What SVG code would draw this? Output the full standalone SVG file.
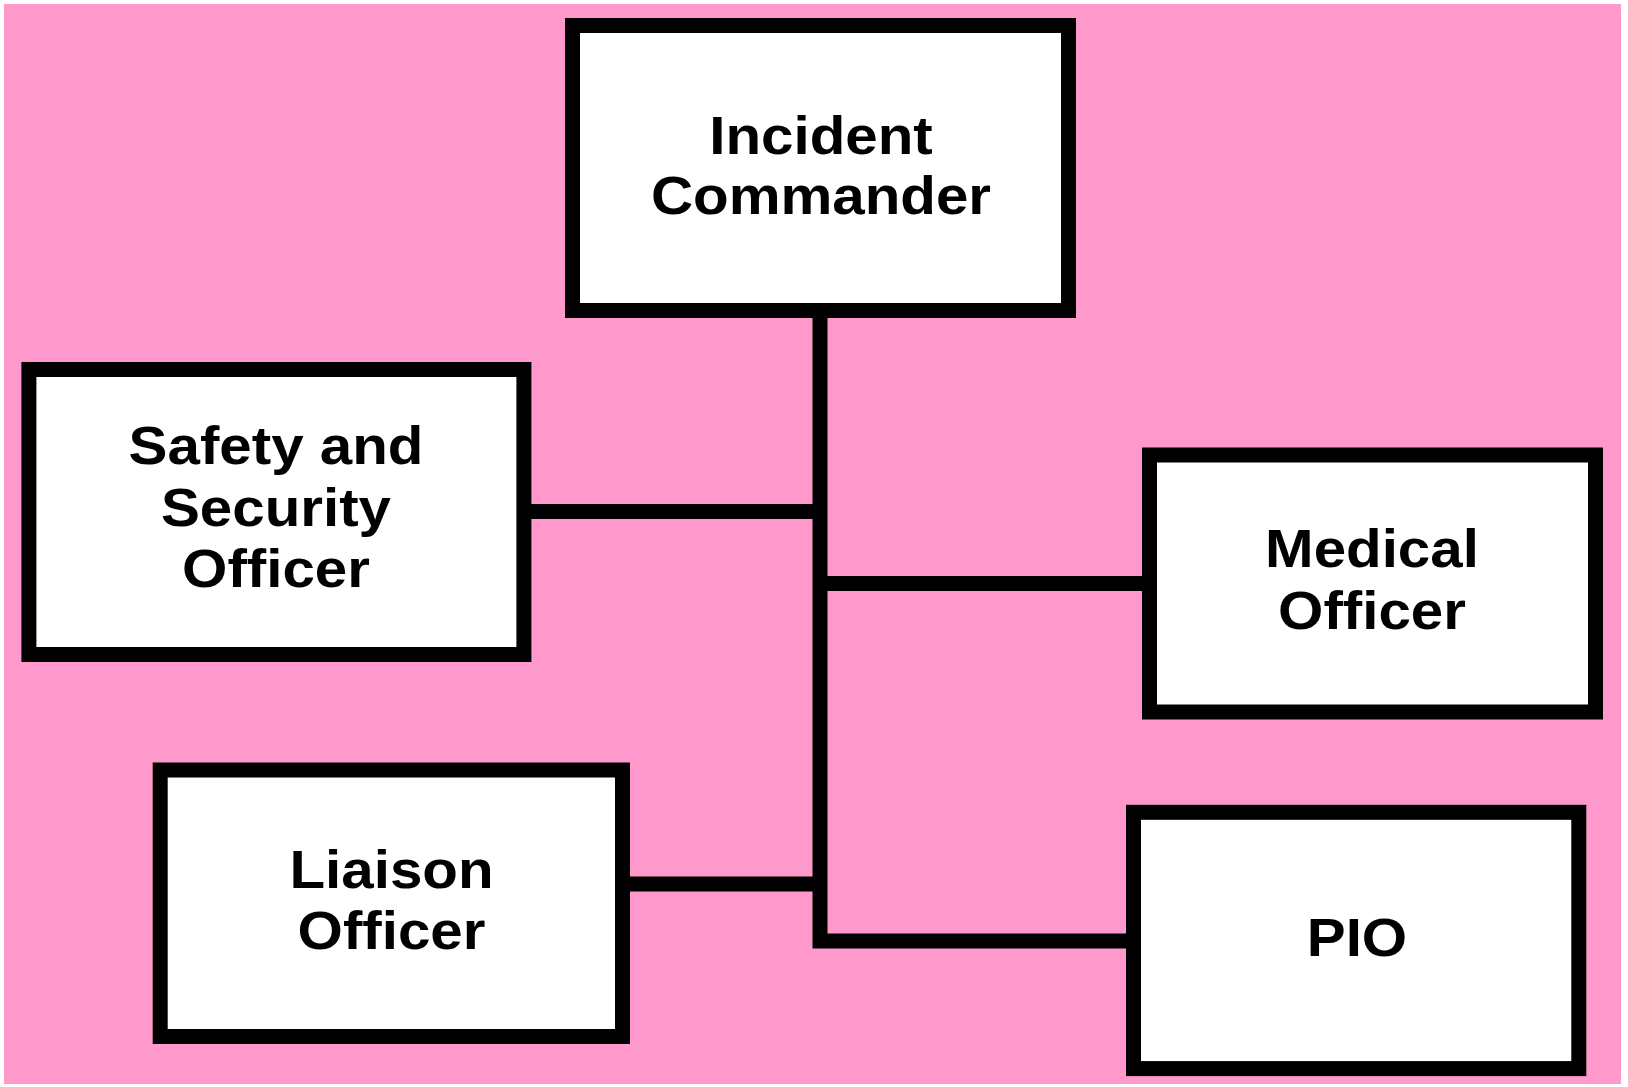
<svg xmlns="http://www.w3.org/2000/svg" width="1628" height="1087" viewBox="0 0 1628 1087">
  <style>
    .box { fill: #FFFFFF; stroke: #000000; stroke-width: 15; }
    .conn { fill: none; stroke: #000000; stroke-width: 15; stroke-linejoin: miter; stroke-linecap: butt; }
    .label { font-family: "Liberation Sans", Arial, sans-serif; font-weight: bold; font-size: 53px; fill: #000000; text-anchor: middle; }
  </style>
  <rect x="0" y="0" width="1628" height="1087" fill="#FFFFFF"/>
  <rect x="4" y="4" width="1617" height="1080" fill="#FF99CC"/>

  <g id="connectors">
    <path class="conn" d="M820,318 V941 H1127"/>
    <path class="conn" d="M531,511.5 H820"/>
    <path class="conn" d="M820,583.5 H1143"/>
    <path class="conn" d="M630,884 H820"/>
  </g>

  <g id="incident-commander">
    <rect class="box" x="572.5" y="25.5" width="496" height="285"/>
    <text class="label" transform="translate(821 0) scale(1.1 1)" x="0" y="154">Incident</text>
    <text class="label" transform="translate(821 0) scale(1.1 1)" x="0" y="214">Commander</text>
  </g>

  <g id="safety-security-officer">
    <rect class="box" x="28.9" y="369.5" width="495" height="285"/>
    <text class="label" transform="translate(276 0) scale(1.1 1)" x="0" y="464">Safety and</text>
    <text class="label" transform="translate(276 0) scale(1.1 1)" x="0" y="526">Security</text>
    <text class="label" transform="translate(276 0) scale(1.1 1)" x="0" y="587">Officer</text>
  </g>

  <g id="medical-officer">
    <rect class="box" x="1149.5" y="455" width="446" height="257"/>
    <text class="label" transform="translate(1372 0) scale(1.1 1)" x="0" y="567">Medical</text>
    <text class="label" transform="translate(1372 0) scale(1.1 1)" x="0" y="629">Officer</text>
  </g>

  <g id="liaison-officer">
    <rect class="box" x="160.2" y="770" width="462.3" height="266.5"/>
    <text class="label" transform="translate(391.5 0) scale(1.1 1)" x="0" y="888">Liaison</text>
    <text class="label" transform="translate(391.5 0) scale(1.1 1)" x="0" y="949">Officer</text>
  </g>

  <g id="pio">
    <rect class="box" x="1133.5" y="812.3" width="445.3" height="256.3"/>
    <text class="label" transform="translate(1357 0) scale(1.1 1)" x="0" y="956.5">PIO</text>
  </g>
</svg>
